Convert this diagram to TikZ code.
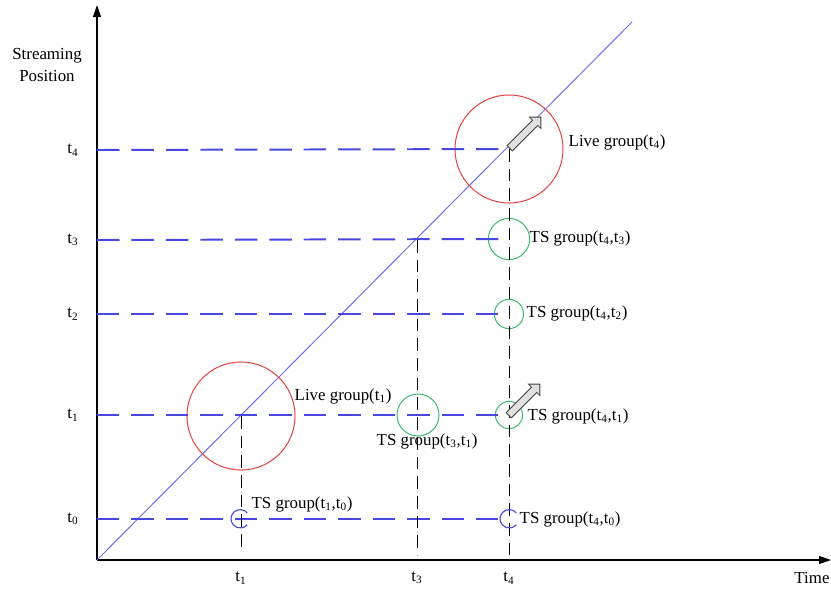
\documentclass[tikz,border=0pt]{standalone}
\usepackage{fontspec}
\setmainfont{Liberation Serif}
\usepackage{xcolor}
\usetikzlibrary{arrows.meta,shapes.arrows}

\definecolor{levelblue}{RGB}{72,72,225}
\definecolor{diagblue}{RGB}{110,110,240}
\definecolor{livered}{RGB}{228,60,60}
\definecolor{tsgreen}{RGB}{60,185,110}

\begin{document}
\begin{tikzpicture}[
    x=0.025cm, y=-0.025cm,
    font=\fontsize{12}{15}\selectfont,
    axis/.style={-{Triangle[length=3mm,width=2mm]}, line width=0.8pt},
    diag/.style={diagblue, line width=0.7pt},
    level/.style={levelblue, line width=1.4pt, dash pattern=on 16pt off 8.5pt},
    drop/.style={black, line width=0.6pt, dash pattern=on 9pt off 5pt},
    live/.style={circle, draw=livered, line width=0.7pt, minimum size=2.7cm, inner sep=0pt},
    tsgrp/.style={circle, draw=tsgreen, line width=0.7pt, inner sep=0pt},
    tsold/.style={circle, inner sep=0pt, minimum size=0.46cm},
    growarrow/.style={single arrow, draw=black!75, fill=black!12, line width=0.6pt, rotate=45,
        inner xsep=0pt, inner ysep=2.1pt, minimum width=0.4cm, minimum height=1.1cm,
        single arrow head extend=0.1cm},
    lbl/.style={anchor=west, inner sep=1pt}
]
\useasboundingbox (0,0) rectangle (831,592);

% axes
\coordinate (O) at (97,560);
\coordinate (ytop) at (97,5);
\coordinate (xend) at (831,560);
\coordinate (dend) at (632,22);
\draw[axis] (O) -- (ytop);
\draw[axis] (O) -- (xend);
\draw[diag] (O) -- (dend);
\node[align=center] (ylab) at (47,65) {Streaming\\Position};
\node (xlab) at (812,578) {Time};

% levels on the streaming axis
\foreach \i/\y in {0/519,1/415,2/314,3/240,4/150} {
  \node (lab\i) at (73,\y) {t\textsubscript{\i}};
  \coordinate (y\i) at (97,\y);
}
\node (tt1) at (241,578) {t\textsubscript{1}};
\node (tt3) at (417,578) {t\textsubscript{3}};
\node (tt4) at (509,578) {t\textsubscript{4}};

% groups
\node[live] (live1) at (241,416) {};
\node[live] (live4) at (509,149) {};
\node[tsgrp, minimum size=1.03cm] (ts43) at (509,239) {};
\node[tsgrp, minimum size=0.73cm] (ts42) at (509,314) {};
\node[tsgrp, minimum size=1.05cm] (ts31) at (418,415) {};
\node[tsgrp, minimum size=0.68cm] (ts41) at (509,415) {};
\node[tsold] (ts10) at (240,519) {};
\node[tsold] (ts40) at (509,519) {};
\coordinate (c3) at (417,240);
\coordinate (xb1) at (241,550);
\coordinate (xb3) at (417,555);
\coordinate (xb4) at (509,555);

% dashed guides
\draw[level] (y4) -- (live4.center);
\draw[level] (y3) -- (ts43.center);
\draw[level] (y2) -- (ts42.center);
\draw[level] (y1) -- (ts41.center);
\draw[level] (y0) -- (ts40.center);
\draw[drop] (live1.center) -- (xb1);
\draw[drop] (c3) -- (xb3);
\draw[drop] (live4.center) -- (xb4);

\draw[levelblue, line width=0.8pt] (ts10.40) arc[start angle=40, end angle=320, radius=0.23cm];
\draw[levelblue, line width=0.8pt] (ts40.40) arc[start angle=40, end angle=320, radius=0.23cm];

\node[growarrow] (up4) at (524,134) {};
\node[growarrow] (up1) at (523,401) {};

% labels
\node[lbl] (l4) at (567,142) {Live group(t\textsubscript{4})};
\node[lbl] (l43) at (528,238) {TS group(t\textsubscript{4},t\textsubscript{3})};
\node[lbl] (l42) at (525,313) {TS group(t\textsubscript{4},t\textsubscript{2})};
\node[lbl] (l1) at (293,396) {Live group(t\textsubscript{1})};
\node[lbl] (l31) at (375,441) {TS group(t\textsubscript{3},t\textsubscript{1})};
\node[lbl] (l41) at (526,416) {TS group(t\textsubscript{4},t\textsubscript{1})};
\node[lbl] (l10) at (250,504) {TS group(t\textsubscript{1},t\textsubscript{0})};
\node[lbl] (l40) at (518,519) {TS group(t\textsubscript{4},t\textsubscript{0})};
\end{tikzpicture}
\end{document}
